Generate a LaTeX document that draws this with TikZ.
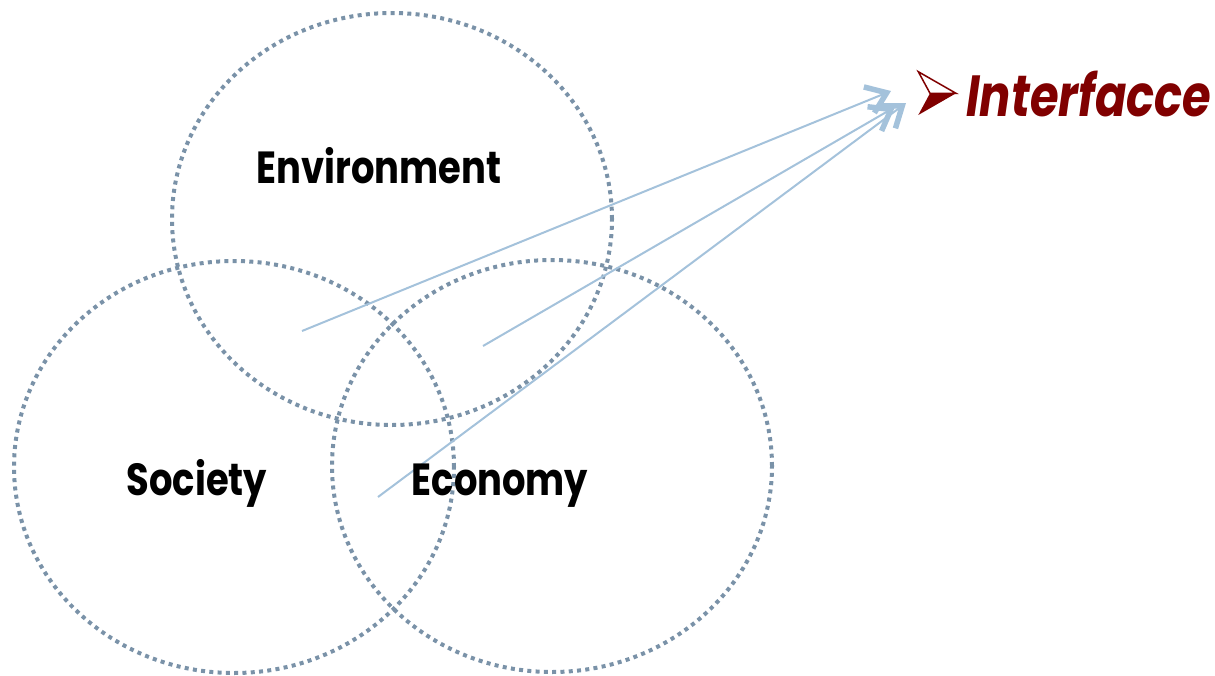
\documentclass[tikz,border=0pt]{standalone}
\usepackage{fontspec}
\setmainfont{Poppins}
\newfontfamily\lblfont[FakeStretch=0.82]{Poppins}
\newfontfamily\iffont[FakeStretch=0.8]{Poppins}
\usetikzlibrary{arrows.meta,shapes.geometric}
\definecolor{dotc}{RGB}{122,146,168}
\definecolor{arrc}{RGB}{164,194,219}
\definecolor{ifred}{RGB}{128,0,0}
\begin{document}
\begin{tikzpicture}[x=1pt,y=-1pt,
  circ/.style={ellipse, draw=dotc, line width=4pt, dash pattern=on 4pt off 4.3pt,
    minimum width=440pt, minimum height=412pt, inner sep=0pt},
  link/.style={draw=arrc, line width=2pt,
    -{Straight Barb[length=19pt,width=28pt,line width=5.5pt]}},
  lbl/.style={font=\lblfont\bfseries\fontsize{45}{45}\selectfont, inner sep=0pt, anchor=base},
  iflbl/.style={font=\iffont\bfseries\itshape\fontsize{58}{58}\selectfont, text=ifred, inner sep=0pt, anchor=base west}]
\useasboundingbox (0,0) rectangle (1215,675);
% circles
\node[circ] (env) at (392,219) {};
\node[circ] (soc) at (234,467) {};
\node[circ] (eco) at (552,466) {};
% arrow endpoints
\coordinate (s1) at (302,331);
\coordinate (e1) at (891,91);
\coordinate (s2) at (483,346);
\coordinate (e2) at (895,107);
\coordinate (s3) at (378,497);
\coordinate (e3) at (906,103);
\draw[link] (s1) -- (e1);
\draw[link] (s2) -- (e2);
\draw[link] (s3) -- (e3);
% labels
\node[lbl] (envt) at (379,183) {Environment};
\node[lbl] (soct) at (197,495) {Society};
\node[lbl] (ecot) at (500,495) {Economy};
% bullet arrowhead
\fill[ifred] (930,93.3) -- (956,93.3) -- (918.3,115) -- cycle;
\draw[ifred, line width=1.5pt, line join=miter, fill=white] (918.3,71.7) -- (956,93.3) -- (930,93.3) -- cycle;
\node[iflbl] (ift) at (966,116) {Interfacce};
\end{tikzpicture}
\end{document}
